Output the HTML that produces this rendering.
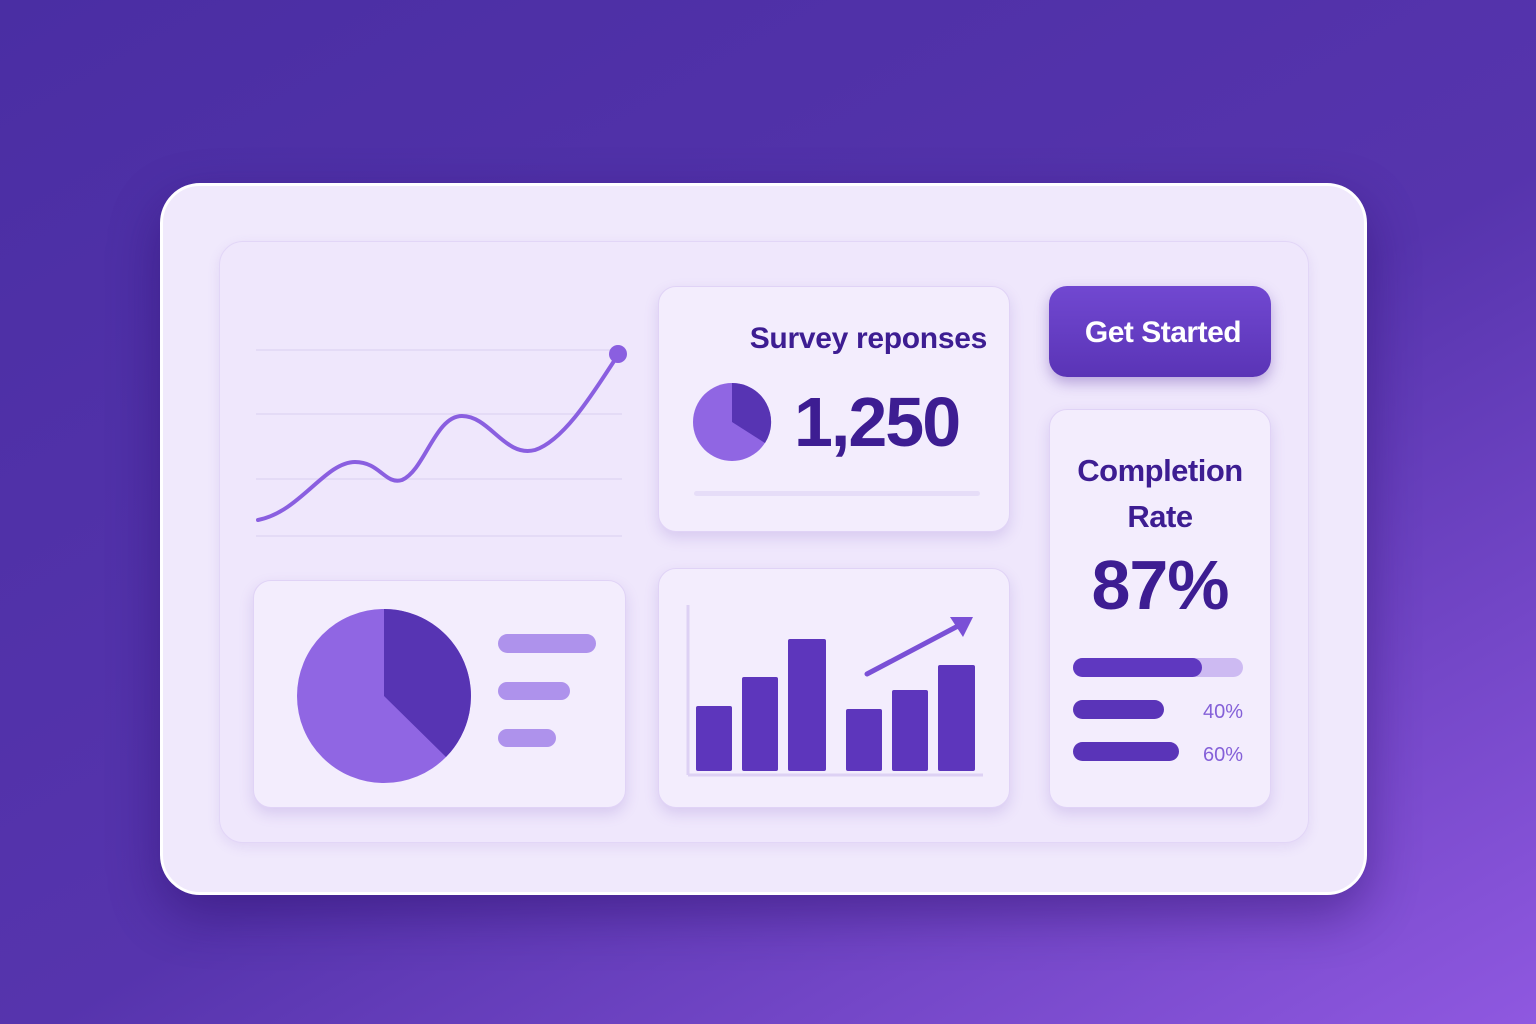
<!DOCTYPE html><html><head><style>
body{margin:0;width:1536px;height:1024px;overflow:hidden;background:linear-gradient(150deg,#4a2ea3 0%,#5634ad 55%,#8f58e0 100%);font-family:"Liberation Sans",sans-serif;position:relative}
.a{position:absolute;box-sizing:border-box}
.outer{left:160px;top:183px;width:1207px;height:712px;border-radius:40px;background:#f0e9fc;border:3px solid #fff;box-shadow:0 20px 50px rgba(40,10,100,.45)}
.inner{left:219px;top:241px;width:1090px;height:602px;border-radius:24px;background:#efe7fc;border:1px solid #e2d6f7;box-shadow:0 4px 12px rgba(120,80,200,.12)}
.card{background:#f3edfd;border:1px solid #e0d3f6;border-radius:18px;box-shadow:0 6px 14px rgba(110,70,190,.18)}
.t{color:#3d1d92;font-weight:bold}
</style></head><body>
<div class="a outer"></div>
<div class="a inner"></div>
<svg class="a" style="left:0;top:0" width="1536" height="1024">
<g stroke="#e4dbf6" stroke-width="2"><line x1="256" y1="350" x2="622" y2="350"/><line x1="256" y1="414" x2="622" y2="414"/><line x1="256" y1="479" x2="622" y2="479"/><line x1="256" y1="536" x2="622" y2="536"/></g>
<path d="M258 520 C300 512,325 462,355 462 C380 462,385 485,402 480 C425 470,435 416,462 416 C490 416,505 458,535 450 C565 440,595 390,618 355" fill="none" stroke="#8a5fe0" stroke-width="4" stroke-linecap="round"/>
<circle cx="618" cy="354" r="9" fill="#8a5fe0"/>
</svg>
<div class="a card" style="left:658px;top:286px;width:352px;height:246px"></div>
<div class="a card" style="left:253px;top:580px;width:373px;height:228px"></div>
<div class="a card" style="left:658px;top:568px;width:352px;height:240px"></div>
<div class="a card" style="left:1049px;top:409px;width:222px;height:399px"></div>
<div class="a" style="left:1049px;top:286px;width:222px;height:91px;border-radius:18px;background:linear-gradient(#7148d1,#5a34b6);box-shadow:0 6px 14px rgba(80,40,160,.35);color:#fff;font-size:30px;font-weight:bold;text-align:center;line-height:93px;letter-spacing:-0.5px;padding-left:6px">Get Started</div>
<div class="a t" style="left:700px;top:322px;width:287px;text-align:right;font-size:30px;letter-spacing:-0.3px">Survey reponses</div>
<div class="a t" style="left:794px;top:382px;font-size:70px;letter-spacing:-2px">1,250</div>
<div class="a" style="left:694px;top:491px;width:286px;height:5px;border-radius:3px;background:#e6ddf8"></div>
<div class="a t" style="left:1049px;top:448px;width:222px;text-align:center;font-size:31px;line-height:46px;letter-spacing:-0.5px">Completion<br>Rate</div>
<div class="a t" style="left:1049px;top:545px;width:222px;text-align:center;font-size:70px;letter-spacing:-1px">87%</div>
<svg class="a" style="left:0;top:0" width="1536" height="1024">
<circle cx="732" cy="422" r="39" fill="#9066e3"/>
<path d="M732 422 L732 383 A39 39 0 0 1 765 443 Z" fill="#5734b3"/>
<circle cx="384" cy="696" r="87" fill="#9066e3"/>
<path d="M384 696 L384 609 A87 87 0 0 1 446 757 Z" fill="#5734b3"/>
<g fill="#ae92ec"><rect x="498" y="634" width="98" height="19" rx="9.5"/><rect x="498" y="682" width="72" height="18" rx="9"/><rect x="498" y="729" width="58" height="18" rx="9"/></g>
<g stroke="#ddd1f4" stroke-width="3"><line x1="688" y1="605" x2="688" y2="775"/><line x1="688" y1="775" x2="983" y2="775"/></g>
<g fill="#5d36bc"><rect x="696" y="706" width="36" height="65" rx="2"/><rect x="742" y="677" width="36" height="94" rx="2"/><rect x="788" y="639" width="38" height="132" rx="2"/><rect x="846" y="709" width="36" height="62" rx="2"/><rect x="892" y="690" width="36" height="81" rx="2"/><rect x="938" y="665" width="37" height="106" rx="2"/></g>
<path d="M867 674 L958 626" stroke="#7a50d6" stroke-width="5" stroke-linecap="round"/>
<path d="M973 617 L950 617 L963 637 Z" fill="#7a50d6"/>
<rect x="1073" y="658" width="170" height="19" rx="9.5" fill="#cdbaf2"/>
<rect x="1073" y="658" width="129" height="19" rx="9.5" fill="#5f38c0"/>
<rect x="1073" y="700" width="91" height="19" rx="9.5" fill="#5a34b8"/>
<rect x="1073" y="742" width="106" height="19" rx="9.5" fill="#5a34b8"/>
<text x="1243" y="718" text-anchor="end" font-size="20" fill="#8460d8" font-family="Liberation Sans">40%</text>
<text x="1243" y="761" text-anchor="end" font-size="20" fill="#8460d8" font-family="Liberation Sans">60%</text>
</svg>
</body></html>
